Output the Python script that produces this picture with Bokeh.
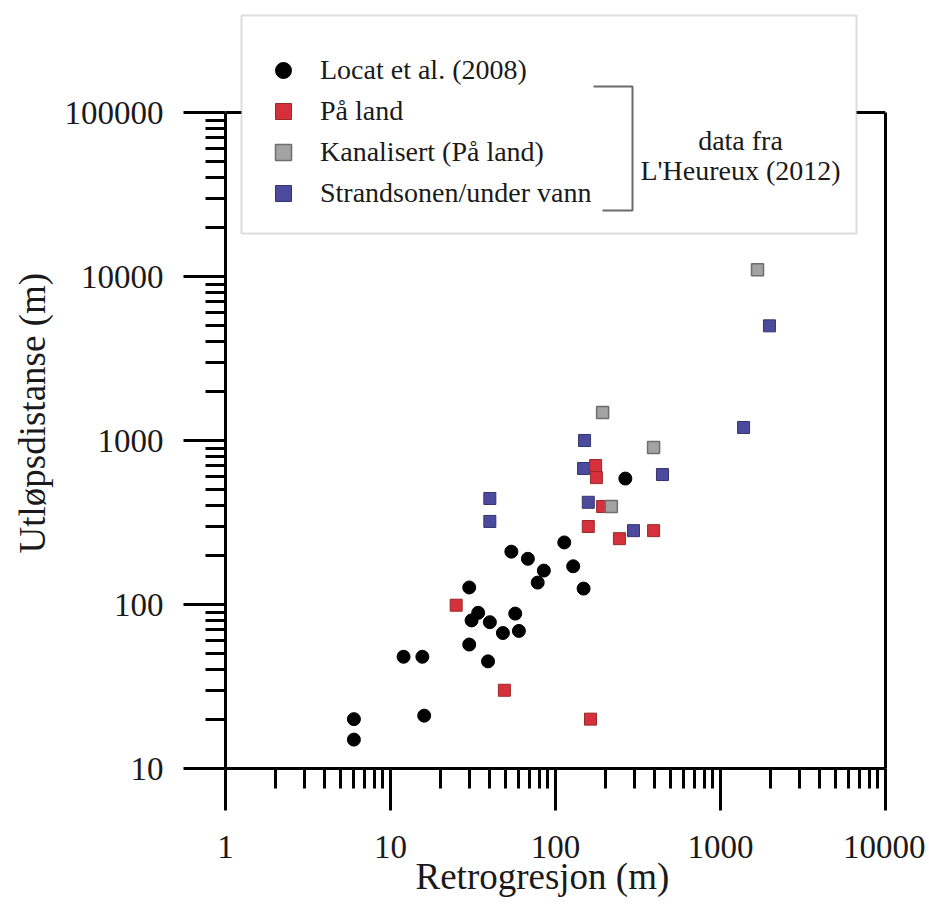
from bokeh.plotting import figure
from bokeh.models import (Range1d, FixedTicker, LogAxis, Span, BoxAnnotation, Legend,
                          LegendItem, Label, BasicTickFormatter, Title)
from bokeh.embed import file_html
from bokeh.resources import INLINE

# ---------------- data ----------------
locat_x = [6, 6, 12, 15.6, 16, 30, 34, 31, 40, 48, 57, 60, 30, 39, 54, 68, 85, 78, 113, 128, 148, 265]
locat_y = [20, 15, 48, 48, 21, 127, 89, 80, 78, 67, 88, 69, 57, 45, 210, 190, 161, 136, 239, 171, 125, 586]

land_x = [25, 49, 163, 175, 177, 193, 158, 244, 393]
land_y = [99, 30, 20, 704, 594, 396, 299, 252, 282]

kanal_x = [1676, 193, 393, 218]
kanal_y = [11000, 1480, 905, 396]

strand_x = [1980, 1380, 150, 148, 445, 158, 297, 40, 40]
strand_y = [5000, 1200, 1000, 675, 620, 420, 282, 443, 321]

series_names = ["Locat et al. (2008)", "På land", "Kanalisert (På land)", "Strandsonen/under vann"]

x_ticks = [1, 10, 100, 1000, 10000]
x_tick_labels = ["1", "10", "100", "1000", "10000"]
y_ticks = [10, 100, 1000, 10000, 100000]
y_tick_labels = ["10", "100", "1000", "10000", "100000"]

x_title = "Retrogresjon (m)"
y_title = "Utløpsdistanse (m)"
note_lines = ["data fra", "L'Heureux (2012)"]

# ---------------- layout ----------------
ML, MT = 225, 13
FRAME_W, FRAME_H = 660, 755
DEC_X = FRAME_W / 4.0          # 165 px per decade
DEC_Y = 164.0
Y_TOP = 10 ** (1 + FRAME_H / DEC_Y)

FL = ML                        # page x of frame left
FB = MT + FRAME_H              # page y of frame bottom


def px_to_x(px):
    return 10 ** ((px - FL) / DEC_X)


def py_to_y(py):
    return 10 ** (1 + (FB - py) / DEC_Y)


SERIF = "Liberation Serif"
TXT = "#1a1a1a"

p = figure(frame_width=FRAME_W, frame_height=FRAME_H, x_axis_type="log", y_axis_type="log",
           x_range=Range1d(1, 10000), y_range=Range1d(10, Y_TOP),
           output_backend="svg", toolbar_location=None,
           min_border_left=ML, min_border_right=40, min_border_top=MT, min_border_bottom=140,
           background_fill_color="white", border_fill_color="white")
p.outline_line_color = None
p.grid.visible = False

x_minor = [k * 10 ** e for e in range(0, 4) for k in range(2, 10)]
y_minor = [k * 10 ** e for e in range(1, 5) for k in range(2, 10)]


def style_axis(ax, standoff):
    ax.axis_line_width = 3
    ax.axis_line_color = "black"
    ax.major_tick_line_width = 3
    ax.minor_tick_line_width = 3
    ax.major_tick_line_color = "black"
    ax.minor_tick_line_color = "black"
    ax.major_tick_in = 0
    ax.minor_tick_in = 0
    ax.major_tick_out = 42
    ax.minor_tick_out = 20
    ax.major_label_text_font = SERIF
    ax.major_label_text_font_size = "33px"
    ax.major_label_text_color = TXT
    ax.major_label_standoff = standoff
    ax.formatter = BasicTickFormatter(use_scientific=False)


xa = p.xaxis[0]
style_axis(xa, 25)
xa.ticker = FixedTicker(ticks=x_ticks, minor_ticks=x_minor)
xa.major_label_overrides = {t: s for t, s in zip(x_ticks, x_tick_labels)}

ya = p.yaxis[0]
style_axis(ya, 20)
ya.ticker = FixedTicker(ticks=y_ticks, minor_ticks=y_minor)
ya.major_label_overrides = {t: s for t, s in zip(y_ticks, y_tick_labels)}
ya.bounds = (y_ticks[0], y_ticks[-1])

# right frame border (axis without ticks)
ra = LogAxis(ticker=FixedTicker(ticks=[]), bounds=(y_ticks[0], y_ticks[-1]),
             axis_line_width=3, axis_line_color="black",
             major_tick_out=0, minor_tick_out=0, major_label_text_font_size="0px")
p.add_layout(ra, "right")

# top frame border
top_border = Span(location=y_ticks[-1], dimension="width", line_color="black",
                  line_width=3, level="underlay")
p.add_layout(top_border)

# axis titles (as side titles so they can be offset like the original)
p.add_layout(Title(text=y_title, align="left", offset=215, text_font=SERIF,
                   text_font_size="37px", text_font_style="normal", text_color=TXT,
                   standoff=18), "left")
p.add_layout(Title(text=x_title, align="left", offset=190, text_font=SERIF,
                   text_font_size="37px", text_font_style="normal", text_color=TXT,
                   standoff=-14), "below")

# ---------------- data marks ----------------
r_locat = p.scatter(locat_x, locat_y, marker="circle", size=13,
                    fill_color="black", line_color="black")
r_strand = p.scatter(strand_x, strand_y, marker="square", size=12,
                     fill_color="#4b4a9c", line_color="#34346e", line_width=1)
r_land = p.scatter(land_x, land_y, marker="square", size=12,
                   fill_color="#d6303c", line_color="#9a2a2a", line_width=1)
r_kanal = p.scatter(kanal_x, kanal_y, marker="square", size=12,
                    fill_color="#a3a3a3", line_color="#6e6e6e", line_width=1.5)

# ---------------- legend ----------------
box = BoxAnnotation(left=px_to_x(241), right=px_to_x(856),
                    top=py_to_y(15), bottom=py_to_y(233),
                    fill_color="white", fill_alpha=1.0,
                    line_color="#8c8c8c", line_width=2)
p.add_layout(box)

legend = Legend(items=[
    LegendItem(label=series_names[0], renderers=[r_locat]),
    LegendItem(label=series_names[1], renderers=[r_land]),
    LegendItem(label=series_names[2], renderers=[r_kanal]),
    LegendItem(label=series_names[3], renderers=[r_strand]),
], location="top_left", margin=16, padding=21, glyph_width=42, glyph_height=40,
    label_height=40, label_standoff=16, spacing=1,
    label_text_font=SERIF, label_text_font_size="28px", label_text_color=TXT,
    border_line_alpha=0, background_fill_alpha=0)
p.add_layout(legend)

# bracket
bx = [px_to_x(593), px_to_x(632), px_to_x(632), px_to_x(602)]
by = [py_to_y(86), py_to_y(86), py_to_y(210), py_to_y(210)]
p.line(bx, by, line_color="#6a6a6a", line_width=2, level="overlay")

for i, t in enumerate(note_lines):
    p.add_layout(Label(x=px_to_x(740), y=py_to_y(140 + 30 * i), text=t,
                       text_align="center", text_baseline="middle",
                       text_font=SERIF, text_font_size="28px", text_color=TXT,
                       level="overlay"))

open("out.html", "w").write(file_html(p, INLINE))
